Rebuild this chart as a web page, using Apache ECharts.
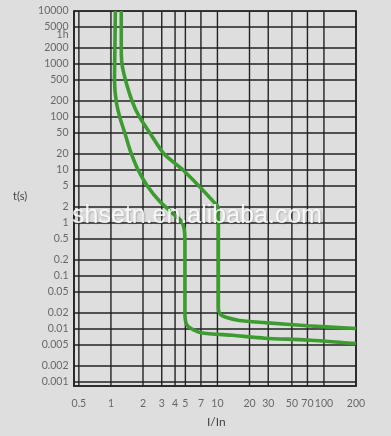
<!DOCTYPE html>
<html>
<head>
<meta charset="utf-8">
<script src="https://cdn.jsdelivr.net/npm/echarts@6/dist/echarts.min.js"></script>
<style>
html,body{margin:0;padding:0;background:#dedede;}
#chart{width:391px;height:436px;}
</style>
</head>
<body>
<div id="chart"></div>
<script>
// Tick values (x = I/In, y = t in seconds)
var xTicks = [0.5, 1, 2, 3, 4, 5, 7, 10, 20, 30, 50, 70, 100, 200];
var yTicks = [0.001, 0.002, 0.005, 0.01, 0.02, 0.05, 0.1, 0.2, 0.5, 1, 2, 5, 10, 20, 50, 100, 200, 500, 1000, 2000, 5000, 10000];
var yLabelValues = [0.001, 0.002, 0.005, 0.01, 0.02, 0.05, 0.1, 0.2, 0.5, 1, 2, 5, 10, 20, 50, 100, 200, 500, 1000, 2000, 3600, 5000, 10000];
var yLabelTexts = ['0.001', '0.002', '0.005', '0.01', '0.02', '0.05', '0.1', '0.2', '0.5', '1', '2', '5', '10', '20', '50', '100', '200', '500', '1000', '2000', '1h', '5000', '10000'];
var xMin = 0.45, xMax = 200, yMin = 0.00084, yMax = 10000;

// Lower tripping curve
var lowerI = [1.1, 1.09, 1.08, 1.12, 1.21, 1.35, 1.52, 1.8, 2.2, 2.85, 3.9, 4.55, 4.85, 4.95, 4.95, 5.1, 5.6, 7, 14, 28, 70, 200];
var lowerT = [10000, 2000, 500, 200, 100, 50, 23, 10, 5, 2.6, 1.45, 1.1, 0.8, 0.5, 0.02, 0.0125, 0.0103, 0.0085, 0.0076, 0.0067, 0.0062, 0.0053];

// Upper tripping curve
var upperI = [1.25, 1.25, 1.27, 1.37, 1.58, 1.85, 2.32, 3.16, 4.75, 6.7, 9.4, 10.1, 10.2, 10.2, 10.6, 12, 16, 28, 70, 200];
var upperT = [10000, 2000, 1000, 500, 200, 100, 50, 20, 10, 5, 2.4, 2.0, 1.2, 0.025, 0.019, 0.0166, 0.0145, 0.0132, 0.0115, 0.0102];

// Both axes are logarithmic: values are mapped to log10 and drawn on value axes.
var L = Math.log10;
function zipLog(a, b) { return a.map(function (v, i) { return [L(v), L(b[i])]; }); }

var green = '#3c9c30';
var labelFont = {fontFamily: 'Lato', fontSize: 10.5, color: '#4a4a4a'};
var series = [];

// grid lines (one small line series per tick)
xTicks.forEach(function (v, i) {
  series.push({type: 'line', name: 'gx' + i, data: [[L(v), L(yMin)], [L(v), L(yMax)]],
    showSymbol: false, lineStyle: {color: '#222', width: 1.4}});
});
yTicks.forEach(function (v, i) {
  series.push({type: 'line', name: 'gy' + i, data: [[L(xMin), L(v)], [L(xMax), L(v)]],
    showSymbol: false, lineStyle: {color: '#222', width: 1.4}});
});

// tripping curves
series.push({type: 'line', name: 'lower', data: zipLog(lowerI, lowerT), showSymbol: false, smooth: 0.25,
  lineStyle: {color: green, width: 3.6}, z: 3});
series.push({type: 'line', name: 'upper', data: zipLog(upperI, upperT), showSymbol: false, smooth: 0.25,
  lineStyle: {color: green, width: 3.6}, z: 3});

// tick labels, placed through the axis scales
series.push({type: 'scatter', name: 'xlab', z: 4, symbolSize: 1, itemStyle: {color: 'rgba(0,0,0,0)'},
  data: xTicks.map(function (v) { return [L(v), L(yMin)]; }),
  label: Object.assign({show: true, position: 'bottom', distance: 12,
    formatter: function (p) { return String(xTicks[p.dataIndex]); }}, labelFont)});
series.push({type: 'scatter', name: 'ylab', z: 4, symbolSize: 1, itemStyle: {color: 'rgba(0,0,0,0)'},
  data: yLabelValues.map(function (v) { return [L(xMin), L(v)]; }),
  label: Object.assign({show: true, position: 'left', distance: 5,
    formatter: function (p) { return yLabelTexts[p.dataIndex]; }}, labelFont)});

var chart = echarts.init(document.getElementById('chart'), null, {renderer: 'canvas'});
chart.setOption({
  backgroundColor: '#dedede',
  animation: false,
  grid: {left: 74, right: 35, top: 11, bottom: 50, show: true, borderColor: '#222', borderWidth: 1.6},
  xAxis: {
    type: 'value', min: L(xMin), max: L(xMax),
    axisLine: {show: true, onZero: false, lineStyle: {color: '#222', width: 1.6}},
    axisTick: {lineStyle: {color: 'rgba(0,0,0,0)'}},
    splitLine: {lineStyle: {color: 'rgba(0,0,0,0)'}},
    axisLabel: {show: false}
  },
  yAxis: {
    type: 'value', min: L(yMin), max: L(yMax),
    axisLine: {show: true, onZero: false, lineStyle: {color: '#222', width: 1.6}},
    axisTick: {lineStyle: {color: 'rgba(0,0,0,0)'}},
    splitLine: {lineStyle: {color: 'rgba(0,0,0,0)'}},
    axisLabel: {show: false}
  },
  series: series,
  graphic: [
    {type: 'text', left: 13, top: 191, style: {text: 't(s)', fontFamily: 'Lato', fontSize: 11, fill: '#444'}},
    {type: 'text', left: 207, top: 416, style: {text: 'I/In', fontFamily: 'Lato', fontSize: 12, fill: '#444'}},
    {type: 'text', left: 72, top: 204, z: 100, silent: true,
      style: {text: 'shsetn.en.alibaba.com', fontFamily: 'Liberation Sans', fontSize: 25, fill: 'rgba(255,255,255,0.88)',
        textShadowColor: 'rgba(0,0,0,0.25)', textShadowBlur: 2, textShadowOffsetX: 1, textShadowOffsetY: 1}}
  ]
});
</script>
</body>
</html>
